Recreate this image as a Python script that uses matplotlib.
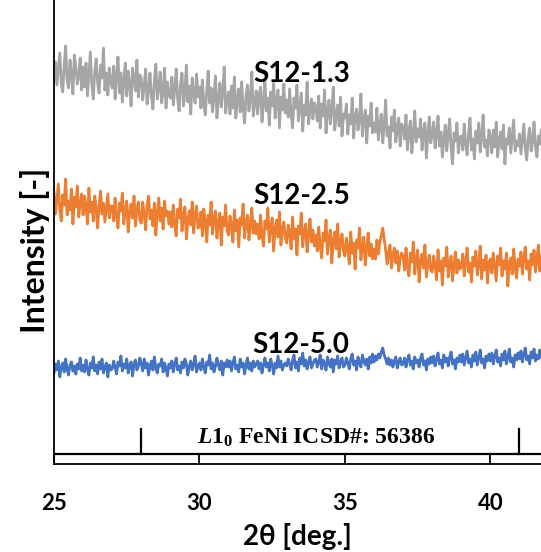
import numpy as np
import matplotlib
matplotlib.use("Agg")
import matplotlib.pyplot as plt

# 2theta grid (measurement step 0.05 deg)
two_theta = np.round(np.arange(25.0, 41.76, 0.05), 2)

s12_13 = [
385, 402, 379, 395, 411, 381, 372, 398, 418, 384, 376, 404, 390, 370, 409, 397, 380, 388, 406, 374,
397, 377, 401, 368, 390, 412, 379, 365, 392, 405, 381, 371, 399, 386, 416, 374, 391, 369, 396, 383,
376, 398, 365, 388, 407, 371, 391, 362, 384, 401, 368, 393, 380, 358, 396, 385, 373, 404, 367, 389,
386, 364, 378, 395, 360, 374, 391, 367, 355, 383, 400, 365, 377, 392, 361, 372, 396, 356, 382, 369,
366, 387, 359, 375, 395, 365, 353, 380, 391, 358, 372, 399, 362, 378, 350, 386, 370, 361, 390, 367,
377, 356, 384, 360, 349, 373, 393, 361, 376, 352, 368, 388, 346, 365, 381, 357, 372, 397, 351, 364,
372, 350, 378, 356, 387, 346, 364, 375, 352, 382, 358, 341, 368, 379, 353, 366, 392, 348, 361, 373,
350, 368, 377, 342, 360, 385, 353, 366, 339, 372, 358, 381, 346, 362, 374, 336, 367, 354, 380, 351,
364, 347, 375, 350, 336, 366, 356, 379, 343, 357, 371, 333, 359, 349, 382, 340, 355, 365, 345, 361,
357, 343, 368, 336, 360, 348, 374, 331, 352, 364, 340, 355, 377, 334, 349, 359, 338, 367, 328, 350,
346, 360, 330, 349, 340, 366, 326, 347, 355, 334, 343, 370, 328, 344, 354, 321, 348, 338, 361, 331,
341, 332, 356, 324, 339, 350, 321, 338, 364, 328, 337, 316, 347, 333, 354, 322, 336, 346, 318, 340,
337, 325, 349, 314, 333, 343, 311, 329, 353, 322, 335, 327, 345, 314, 332, 341, 306, 330, 347, 321,
330, 342, 316, 329, 348, 318, 332, 307, 325, 339, 313, 330, 345, 316, 300, 331, 323, 341, 311, 327,
328, 314, 340, 320, 309, 330, 346, 314, 325, 305, 333, 321, 341, 312, 327, 349, 317, 324, 308, 334,
327, 311, 334, 317, 342, 307, 323, 332, 315, 339, 300, 325, 320, 336, 311, 328, 344, 313, 323, 318,
330, 310, 325, 340, 315, 304, 326, 336, 313, 323, 342, 317, 307, 328, 320, 334,
]

s12_25 = [
272, 250, 265, 280, 254, 243, 269, 259, 285, 249, 263, 254, 275, 240, 267, 257, 278, 247, 261, 270,
249, 268, 258, 240, 276, 252, 262, 243, 268, 256, 236, 259, 273, 250, 261, 242, 256, 270, 246, 258,
258, 243, 266, 247, 236, 261, 253, 271, 240, 255, 263, 232, 252, 260, 246, 268, 238, 254, 262, 244,
241, 262, 250, 234, 259, 268, 245, 254, 238, 261, 229, 251, 266, 243, 256, 235, 263, 248, 253, 240,
252, 237, 259, 240, 228, 255, 246, 265, 233, 248, 257, 225, 244, 253, 239, 262, 231, 249, 258, 236,
237, 252, 228, 255, 243, 222, 249, 239, 262, 230, 245, 253, 226, 242, 251, 219, 247, 238, 259, 233,
229, 248, 238, 222, 254, 233, 244, 217, 246, 239, 260, 226, 241, 249, 224, 239, 256, 231, 243, 230,
240, 225, 249, 229, 218, 243, 235, 256, 222, 237, 246, 213, 236, 244, 227, 252, 219, 235, 242, 226,
221, 239, 232, 215, 247, 225, 235, 209, 238, 230, 251, 217, 232, 240, 212, 230, 245, 222, 234, 218,
229, 213, 237, 218, 206, 231, 223, 244, 210, 226, 234, 201, 224, 232, 215, 240, 207, 222, 230, 213,
208, 226, 216, 200, 232, 211, 221, 195, 224, 216, 236, 204, 218, 227, 199, 216, 231, 208, 220, 205,
215, 205, 224, 210, 222, 228, 236, 225, 214, 200, 211, 219, 196, 209, 216, 201, 213, 193, 206, 211,
208, 194, 216, 198, 188, 211, 202, 222, 190, 205, 214, 182, 203, 210, 196, 219, 187, 201, 209, 194,
192, 208, 199, 184, 214, 193, 203, 179, 206, 198, 217, 187, 200, 208, 183, 199, 212, 191, 204, 195,
197, 210, 188, 203, 216, 192, 201, 182, 207, 198, 213, 189, 200, 218, 185, 204, 194, 209, 181, 202,
205, 191, 211, 197, 183, 208, 199, 216, 188, 203, 195, 211, 178, 201, 206, 190, 215, 197, 186, 205,
198, 212, 190, 206, 217, 195, 203, 184, 210, 199, 214, 192, 204, 219, 193, 208,
]

s12_50 = [
91, 100, 94, 103, 87, 97, 101, 92, 105, 95, 89, 99, 102, 93, 98, 90, 100, 95, 106, 93,
99, 92, 104, 95, 89, 101, 96, 107, 93, 99, 90, 102, 95, 105, 91, 97, 101, 87, 99, 94,
95, 103, 97, 90, 102, 98, 108, 93, 100, 96, 105, 91, 99, 102, 88, 100, 104, 94, 98, 106,
100, 93, 105, 96, 101, 89, 98, 103, 94, 107, 96, 91, 100, 98, 105, 92, 101, 96, 88, 100,
96, 103, 92, 100, 106, 94, 98, 91, 102, 96, 105, 100, 89, 98, 103, 94, 100, 108, 92, 98,
101, 94, 105, 97, 91, 102, 99, 109, 95, 101, 92, 98, 106, 99, 94, 103, 89, 101, 97, 104,
97, 103, 93, 101, 107, 95, 99, 92, 105, 97, 101, 90, 99, 106, 95, 101, 93, 103, 97, 100,
103, 95, 101, 91, 99, 106, 97, 101, 93, 105, 99, 90, 101, 96, 108, 97, 103, 94, 99, 101,
98, 105, 100, 94, 104, 109, 96, 102, 93, 106, 100, 111, 98, 104, 95, 102, 107, 96, 100, 104,
105, 97, 102, 109, 95, 104, 100, 94, 107, 101, 97, 105, 92, 104, 100, 108, 96, 102, 106, 97,
99, 106, 101, 95, 105, 110, 99, 103, 94, 107, 101, 97, 109, 103, 99, 105, 95, 107, 101, 110,
102, 108, 104, 110, 106, 112, 116, 109, 105, 100, 106, 99, 104, 97, 103, 107, 96, 102, 106, 99,
100, 106, 97, 104, 109, 99, 103, 95, 107, 101, 104, 97, 106, 110, 99, 103, 94, 105, 100, 107,
101, 108, 98, 105, 111, 100, 104, 96, 109, 102, 106, 98, 107, 112, 100, 104, 95, 106, 102, 109,
102, 110, 99, 106, 113, 101, 105, 97, 109, 103, 112, 99, 106, 114, 101, 105, 96, 108, 103, 110,
103, 111, 100, 108, 114, 102, 106, 98, 110, 104, 113, 100, 107, 115, 102, 106, 97, 109, 104, 111,
105, 113, 102, 110, 116, 104, 108, 100, 112, 106, 115, 103, 109, 105, 114, 107,
]

series_names = ["S12-1.3", "S12-2.5", "S12-5.0"]
series_colors = ["#A5A5A5", "#ED7D31", "#4472C4"]
label_y = [390, 268, 119]

# L1_0 FeNi reference peaks (ICSD#: 56386)
ref_peaks = [28.0, 41.0]
ref_base = 10
ref_height = 25

xticks = [25, 30, 35, 40]

plt.rcParams['font.family'] = ['Lato', 'DejaVu Sans']
plt.rcParams['mathtext.fontset'] = 'custom'
plt.rcParams['mathtext.rm'] = 'Liberation Serif:bold'
plt.rcParams['mathtext.it'] = 'Liberation Serif:italic:bold'
plt.rcParams['mathtext.bf'] = 'Liberation Serif:bold'

fig = plt.figure(figsize=(5.41, 5.52), dpi=100)
ax = fig.add_axes([54/541, 88/552, 1 - 54/541, 1 - 88/552])

n = len(two_theta)
for vals, col in zip([s12_13, s12_25, s12_50], series_colors):
    m = min(n, len(vals))
    ax.plot(two_theta[:m], vals[:m], color=col, lw=2.0)

# reference pattern
ax.axhline(ref_base, color='black', lw=1.6)
for p in ref_peaks:
    ax.plot([p, p], [ref_base, ref_base + ref_height], color='black', lw=1.6)

for name, y in zip(series_names, label_y):
    ax.text(33.5, y, name, fontsize=20, fontweight='bold', ha='center', va='center')

ax.text(34.0, 27, r'$\mathit{L}1_0$ FeNi ICSD#: 56386', family='Liberation Serif',
        fontweight='bold', fontsize=17, ha='center', va='center')

ax.set_xlim(25, 41.74)
ax.set_ylim(0, 464)
ax.set_xticks(xticks)
ax.set_xticklabels([str(t) for t in xticks], fontweight='bold', fontsize=16)
ax.set_yticks([])
ax.tick_params(axis='x', direction='in', length=7, width=1.3, pad=21)
for s in ['top', 'right']:
    ax.spines[s].set_visible(False)
for s in ['left', 'bottom']:
    ax.spines[s].set_linewidth(1.3)

ax.set_xlabel('2θ [deg.]', fontsize=20, fontweight='bold', labelpad=6)
ax.set_ylabel('Intensity [-]', fontsize=23, fontweight='bold')
ax.yaxis.set_label_coords(-0.008, 0.461)

fig.savefig('out.png', dpi=100)
